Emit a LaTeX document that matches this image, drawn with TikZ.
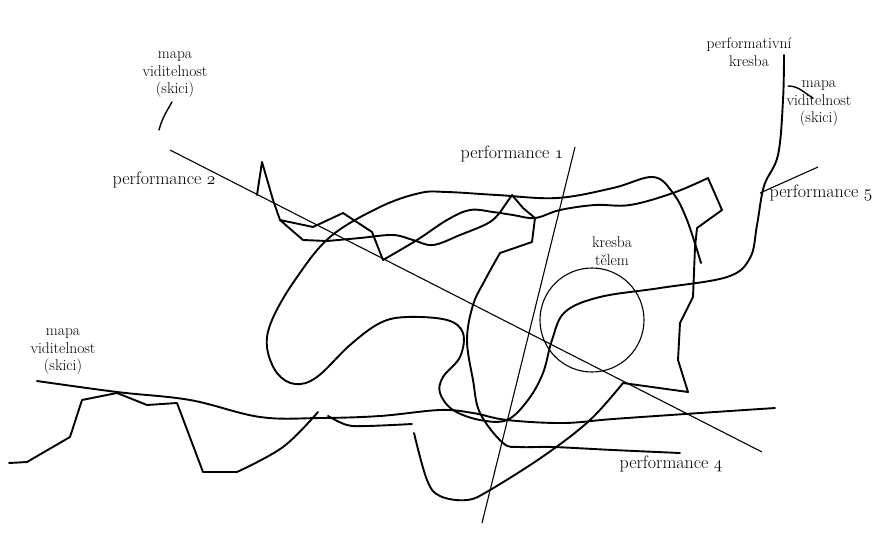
\documentclass[tikz,border=0pt]{standalone}
\usepackage{fontspec}
\usepackage{tikz}
\usepackage{xcolor}
\newcommand{\osnum}[1]{$\mathnormal{#1}$}
\tikzset{
  stroke/.style={line width=1.9pt,line cap=round,line join=round},
  perfline/.style={line width=1.1pt},
  tick/.style={line width=1.4pt,line cap=round},
  note/.style={font=\fontsize{15.5}{17.5}\selectfont,align=center,inner sep=0pt},
  perf/.style={font=\fontsize{18}{20}\selectfont,inner sep=0pt}
}
\begin{document}
\begin{tikzpicture}[x=1pt,y=-1pt]
\useasboundingbox (0,0) rectangle (872,536);
\node[note] (mapaA) at (175,75) {mapa\\viditelnost\\(skici)};
\node[note] (mapaB) at (819,104) {mapa\\viditelnost\\(skici)};
\node[note] (mapaC) at (63,352) {mapa\\viditelnost\\(skici)};
\node[note] (kresba) at (749,52) {performativní\\kresba};
\node[note] (telo) at (612,251) {kresba\\tělem};
\node[perf] (perfA) at (512,154) {performance \osnum{1}};
\node[perf] (perfB) at (164,180) {performance \osnum{2}};
\node[perf] (perfD) at (671,464) {performance \osnum{4}};
\node[perf] (perfE) at (821,193) {performance \osnum{5}};
\draw[tick] (172,102) to[out=240,in=75] (159,130);
\draw[tick] (788,86) to[out=0,in=150] (813,98);
\draw[perfline] (170,150)--(762,452);
\draw[perfline] (575,147)--(482,523);
\draw[perfline] (818,167)--(760,193);
\draw[perfline] (592,320) circle (52);
\draw[stroke] plot[smooth,tension=0.6] coordinates {(701,263) (687,220) (673,193) (653,177) (613,188) (557,198) (497,195) (447,192) (420,193) (380,207) (330,237) (295,280) (272,320) (267,347) (277,373) (295,384) (317,377) (350,345) (380,323) (407,317) (447,320) (463,333) (460,357) (443,377) (440,393) (453,410) (480,420) (507,420) (528,400) (543,373) (552,340) (565,312) (600,297) (660,288) (727,277) (750,258) (757,225) (764,186) (778,155) (783,100) (784,55)};
\draw[stroke] (257,195)--(262,162)--(273,200)--(280,220)--(313,227)--(343,213)--(372,232)--(383,260)
  -- plot[smooth,tension=0.6] coordinates {(383,260) (417,240) (447,220) (470,210) (493,212) (513,215) (535,218) (560,210) (595,205) (630,205) (673,193) (708,178)}
  --(722,210)--(697,228)--(695,247)--(693,297)--(680,323)--(678,360)--(688,392)--(623,383)
  -- plot[smooth,tension=0.6] coordinates {(623,383) (590,420) (545,455) (490,490) (467,500) (440,496) (427,480) (414,433)};
\draw[stroke] (280,220)--(303,240)--(327,241)
  -- plot[smooth,tension=0.6] coordinates {(327,241) (360,238) (393,235) (413,240) (433,245) (460,235) (490,222) (503,208)}
  --(512,195)--(523,208)--(535,218)--(532,242)--(500,253)
  -- plot[smooth,tension=0.6] coordinates {(500,253) (485,280) (473,305) (467,340) (473,380) (480,413) (503,443) (520,447) (553,447) (613,450) (680,453)};
\draw[stroke] (9,463)--(27,462)--(70,437)--(82,400)--(117,393)--(147,405)--(177,403)--(203,472)--(237,472)
  -- plot[smooth,tension=0.6] coordinates {(237,472) (283,447) (318,412)};
\draw[stroke] plot[smooth,tension=0.6] coordinates {(328,416) (347,425) (367,426) (412,424)};
\draw[stroke] plot[smooth,tension=0.6] coordinates {(37,381) (117,392) (190,400) (260,417) (320,418) (380,416) (440,410) (473,413) (507,420) (563,423) (613,419) (700,413) (775,408)};
\end{tikzpicture}
\end{document}
